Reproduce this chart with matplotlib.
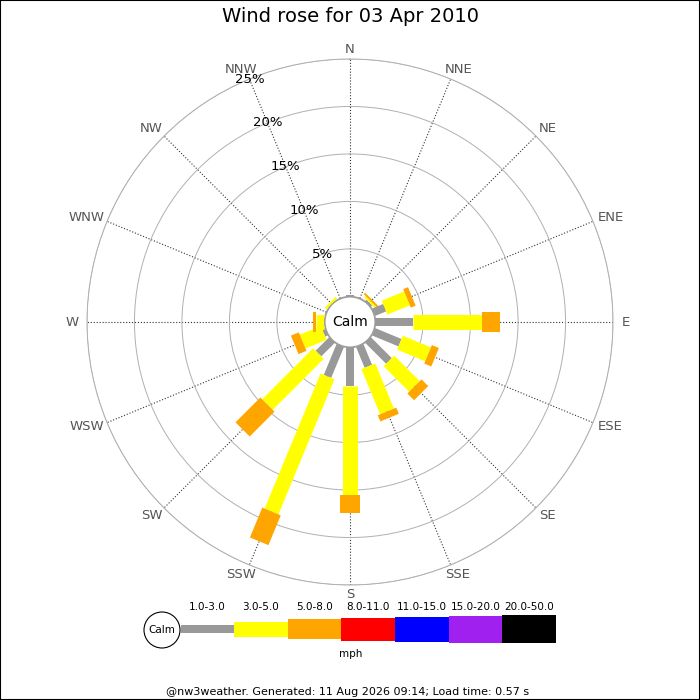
import numpy as np
import matplotlib
matplotlib.use("Agg")
import matplotlib.pyplot as plt
from matplotlib.patches import Circle, Rectangle

# Wind rose data, percent of time per direction and speed class
directions = ["N", "NNE", "NE", "ENE", "E", "ESE", "SE", "SSE",
              "S", "SSW", "SW", "WSW", "W", "WNW", "NW", "NNW"]
speed_1_3 = [0.15, 0, 0.2, 1.25, 3.95, 3.0, 3.1, 2.35, 4.0, 3.5, 2.0, 0.3, 0, 0, 0, 0]
speed_3_5 = [0, 0, 0.2, 2.55, 7.25, 3.2, 3.8, 5.15, 11.5, 15.4, 7.6, 2.4, 0.9, 0, 0.25, 0]
speed_5_8 = [0, 0, 0.2, 0.55, 1.9, 0.8, 1.0, 0.7, 1.95, 3.4, 3.7, 0.9, 0.3, 0, 0, 0]

speed_labels = ["1.0-3.0", "3.0-5.0", "5.0-8.0", "8.0-11.0",
                "11.0-15.0", "15.0-20.0", "20.0-50.0"]
speed_colors = ["#999999", "#ffff00", "#ffa500", "#ff0000",
                "#0000ff", "#a020f0", "#000000"]
bar_px = [8, 15, 20, 23, 25, 27, 28]   # bar thickness per class, pixels

ring_values = [5, 10, 15, 20, 25]
ring_labels = ["5%", "10%", "15%", "20%", "25%"]

title = "Wind rose for 03 Apr 2010"
footer = "@nw3weather. Generated: 11 Aug 2026 09:14; Load time: 0.57 s"

W = H = 700
fig = plt.figure(figsize=(7, 7), dpi=100)

# polar axes placed so the centre sits at (350, 322) px, outer radius 263 px
cx, cy, R = 350, 322, 263
ax = fig.add_axes([(cx - R) / W, 1 - (cy + R) / H, 2 * R / W, 2 * R / H],
                  projection="polar")
ax.set_theta_zero_location("N")
ax.set_theta_direction(-1)
ax.set_ylim(0, 25)
ax.set_rorigin(-2.7)
px_per_pct = (R - 25.5) / 25

thetas = np.deg2rad(np.arange(16) * 22.5)
ax.set_xticks(thetas)
ax.set_xticklabels([])
ax.set_yticks(ring_values)
ax.set_yticklabels([])
ax.xaxis.grid(True, color="#333333", linestyle=":", linewidth=0.8)
ax.yaxis.grid(True, color="#b0b0b0", linestyle="-", linewidth=0.7)
ax.spines["polar"].set_color("#b0b0b0")
ax.spines["polar"].set_linewidth(0.7)
ax.spines["inner"].set_color("#999999")
ax.tick_params(length=0)

# stacked bars drawn as thick radial lines so the width stays constant
classes = [speed_1_3, speed_3_5, speed_5_8]
for i, th in enumerate(thetas):
    start = 0.0
    for k, vals in enumerate(classes):
        v = vals[i]
        if v > 0:
            ax.plot([th, th], [start, start + v], color=speed_colors[k],
                    linewidth=bar_px[k] * 0.72, solid_capstyle="butt", zorder=3)
        start += v

# direction labels, nudged sideways by part of their width
renderer = fig.canvas.get_renderer()
r_lab = (273 - 25.5) / px_per_pct
for th, name in zip(thetas, directions):
    t = ax.annotate(name, xy=(th, r_lab), xytext=(0, 0),
                    textcoords="offset pixels", ha="center", va="center",
                    fontsize=9.5, color="#555555", annotation_clip=False)
    w = t.get_window_extent(renderer).width
    t.xyann = (0.35 * w * np.sin(th), 0)

# percent labels along NNW
for r, lab in zip(ring_values, ring_labels):
    ax.text(np.deg2rad(337.5), r, lab, ha="center", va="center",
            fontsize=9.5, color="black", zorder=4)

# calm circle
calm = Circle((cx / W, 1 - cy / H), 25 / W, transform=fig.transFigure,
              facecolor="white", edgecolor="#999999", linewidth=0.8, zorder=5)
fig.patches.append(calm)
fig.text(cx / W, 1 - cy / H, "Calm", ha="center", va="center", fontsize=10,
         zorder=6)

fig.text(0.5, 1 - 17 / H, title, ha="center", va="center", fontsize=14)

# legend in pixel coordinates
lg = fig.add_axes([0, 0, 1, 1], facecolor="none")
lg.set_xlim(0, W)
lg.set_ylim(H, 0)
lg.axis("off")
seg_w = 53.6
x0 = 180.5
ymid = 629
lefts = [x0 + i * seg_w for i in range(len(speed_labels))]
lg.bar(lefts, bar_px, width=seg_w, bottom=[ymid - h / 2 for h in bar_px],
       color=speed_colors, align="edge", linewidth=0)
for left, lab in zip(lefts, speed_labels):
    lg.text(left + seg_w / 2, 607, lab, ha="center", va="center", fontsize=7.5)
lg.add_patch(Circle((162, 630), 18, facecolor="white", edgecolor="black",
                    linewidth=0.8, zorder=3))
lg.text(162, 630, "Calm", ha="center", va="center", fontsize=7.5, zorder=4)
lg.text(351, 654, "mph", ha="center", va="center", fontsize=7.5)
lg.text(348, 692, footer, ha="center", va="center", fontsize=8)

fig.patches.append(Rectangle((0, 0), 1, 1, transform=fig.transFigure,
                             fill=False, edgecolor="black", linewidth=1.5))

fig.savefig("out.png", dpi=100)
